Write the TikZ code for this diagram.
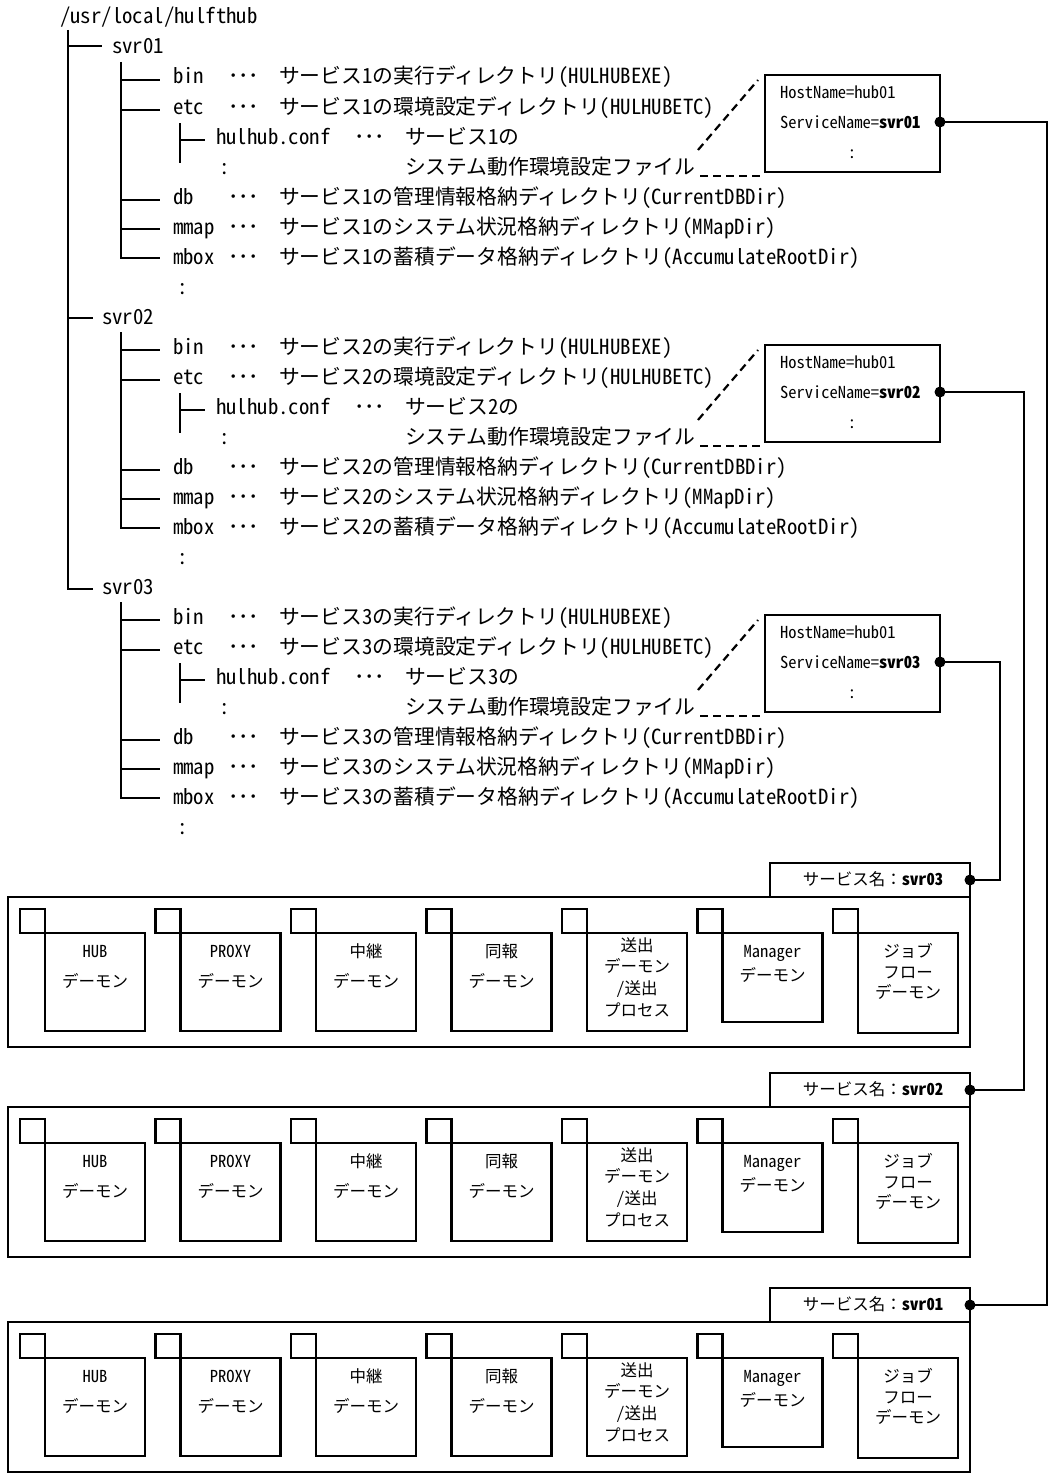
\documentclass[tikz,border=0pt]{standalone}
\usepackage{fontspec}
\setmainfont{Noto Sans CJK JP}
\newfontfamily\hw{Noto Sans CJK JP}[RawFeature=+hwid]
\usetikzlibrary{calc}
\tikzset{
  ln/.style={line width=2.6pt},
  cn/.style={line width=2.2pt},
  tt/.style={font=\fontsize{20.8}{22}\selectfont, inner sep=0pt, outer sep=0pt, anchor=west, text height=17pt, text depth=3pt},
  sm/.style={font=\fontsize{16.5}{18}\selectfont, inner sep=0pt, outer sep=0pt, text height=14pt, text depth=2.5pt},
  bx/.style={draw, line width=2.6pt, inner sep=0pt, outer sep=0pt, anchor=north west},
  dsh/.style={line width=2.2pt, dash pattern=on 8pt off 5pt},
  dotn/.style={circle, fill, inner sep=0pt, outer sep=0pt, minimum size=11pt},
}
\begin{document}
\begin{tikzpicture}[x=1pt,y=-1pt]
\useasboundingbox[fill=white] (0,0) rectangle (1056,1480);

% ---------- tree ----------
\node[tt] (root) at (60,17) {\hw /usr/local/hulfthub};
\node[tt] (svr1) at (112,47) {\hw svr01};
\node[tt] (svr2) at (102,317) {\hw svr02};
\node[tt] (svr3) at (102,587) {\hw svr03};
\draw[ln] (68,30) -- (68,589) -- (93,589);
\draw[ln] (68,46) -- (102,46);
\draw[ln] (68,318) -- (93,318);

\foreach \n/\Y in {1/0,2/270,3/540}{
  \node[tt] (bin\n) at (173,{77+\Y}) {\hw bin};
  \node[tt] (bind\n) at (228,{77+\Y}) {･･･};
  \node[tt] (bint\n) at (279,{77+\Y}) {サービス{\hw\n}の実行ディレクトリ{\hw(HULHUBEXE)}};
  \node[tt] (etc\n) at (173,{107+\Y}) {\hw etc};
  \node[tt] (etcd\n) at (228,{107+\Y}) {･･･};
  \node[tt] (etct\n) at (279,{107+\Y}) {サービス{\hw\n}の環境設定ディレクトリ{\hw(HULHUBETC)}};
  \node[tt] (conf\n) at (216,{137+\Y}) {\hw hulhub.conf};
  \node[tt] (confd\n) at (354,{137+\Y}) {･･･};
  \node[tt] (conft\n) at (405,{137+\Y}) {サービス{\hw\n}の};
  \node[tt] (confu\n) at (405,{167+\Y}) {システム動作環境設定ファイル};
  \node[tt,anchor=center] (confc\n) at (225,{167+\Y}) {\hw :};
  \node[tt] (db\n) at (173,{197+\Y}) {\hw db};
  \node[tt] (dbd\n) at (228,{197+\Y}) {･･･};
  \node[tt] (dbt\n) at (279,{197+\Y}) {サービス{\hw\n}の管理情報格納ディレクトリ{\hw(CurrentDBDir)}};
  \node[tt] (mm\n) at (173,{227+\Y}) {\hw mmap};
  \node[tt] (mmd\n) at (228,{227+\Y}) {･･･};
  \node[tt] (mmt\n) at (279,{227+\Y}) {サービス{\hw\n}のシステム状況格納ディレクトリ{\hw(MMapDir)}};
  \node[tt] (mb\n) at (173,{257+\Y}) {\hw mbox};
  \node[tt] (mbd\n) at (228,{257+\Y}) {･･･};
  \node[tt] (mbt\n) at (279,{257+\Y}) {サービス{\hw\n}の蓄積データ格納ディレクトリ{\hw(AccumulateRootDir)}};
  \node[tt,anchor=center] (endc\n) at (183,{287+\Y}) {\hw :};
  % tree lines
  \draw[ln] (121,{62+\Y}) -- (121,{258+\Y}) -- (160,{258+\Y});
  \foreach \r in {80,110,200,229}{ \draw[ln] (121,{\r+\Y}) -- (160,{\r+\Y}); }
  \draw[ln] (180,{123+\Y}) -- (180,{163+\Y});
  \draw[ln] (180,{140+\Y}) -- (205,{140+\Y});
  % host box
  \node[bx, minimum width=175pt, minimum height=97pt] (host\n) at (765,{75+\Y}) {};
  \node[sm, anchor=west] (hn\n) at (780,{93+\Y}) {\hw HostName=hub01};
  \node[sm, anchor=west] (sn\n) at (780,{123+\Y}) {\hw ServiceName=\textbf{svr0\n}};
  \node[sm] (hc\n) at (852,{153+\Y}) {\hw :};
  \draw[dsh] (700,{176+\Y}) -- (762,{176+\Y});
  \draw[dsh] (698,{150+\Y}) -- (758,{80+\Y});
  \node[dotn] (hd\n) at (940,{122+\Y}) {};
}

% ---------- service panels ----------
\foreach \s/\T in {3/897,2/1107,1/1322}{
  \node[bx, minimum width=962pt, minimum height=150pt] (panel\s) at (8,\T) {};
  \node[bx, anchor=south east, minimum width=200pt, minimum height=34pt] (tab\s) at (970,\T) {};
  \node[sm, anchor=east] (tabt\s) at (943,{\T-17}) {サービス名：{\hw\bfseries svr0\s}};
  \node[dotn] (td\s) at (970,{\T-17}) {};
  \foreach \i/\b in {0/134,1/134,2/134,3/134,4/134,5/125,6/136}{
    \pgfmathsetmacro\xx{20+135.5*\i}
    \node[bx, minimum width=25pt, minimum height=24pt] (sq\s\i) at (\xx,{\T+12}) {};
    \node[bx, minimum width=100pt, minimum height={\b-36}] (dm\s\i) at (sq\s\i.south east) {};
  }
  \node[sm] (l\s a1) at (95,{\T+55}) {\hw HUB};
  \node[sm] (l\s a2) at (95,{\T+85}) {デーモン};
  \node[sm] (l\s b1) at (230.5,{\T+55}) {\hw PROXY};
  \node[sm] (l\s b2) at (230.5,{\T+85}) {デーモン};
  \node[sm] (l\s c1) at (366,{\T+55}) {中継};
  \node[sm] (l\s c2) at (366,{\T+85}) {デーモン};
  \node[sm] (l\s d1) at (501.5,{\T+55}) {同報};
  \node[sm] (l\s d2) at (501.5,{\T+85}) {デーモン};
  \node[sm] (l\s e1) at (637,{\T+49}) {送出};
  \node[sm] (l\s e2) at (637,{\T+70}) {デーモン};
  \node[sm] (l\s e3) at (637,{\T+92}) {{\hw/}送出};
  \node[sm] (l\s e4) at (637,{\T+114}) {プロセス};
  \node[sm] (l\s f1) at (772.5,{\T+55}) {\hw Manager};
  \node[sm] (l\s f2) at (772.5,{\T+79}) {デーモン};
  \node[sm] (l\s g1) at (908,{\T+55}) {ジョブ};
  \node[sm] (l\s g2) at (908,{\T+76}) {フロー};
  \node[sm] (l\s g3) at (908,{\T+96}) {デーモン};
}

% ---------- connectors ----------
\draw[cn] (hd1.center) -- ++(107,0) |- (td1.center);
\draw[cn] (hd2.center) -- ++(84,0) |- (td2.center);
\draw[cn] (hd3.center) -- ++(60,0) |- (td3.center);
\end{tikzpicture}
\end{document}
